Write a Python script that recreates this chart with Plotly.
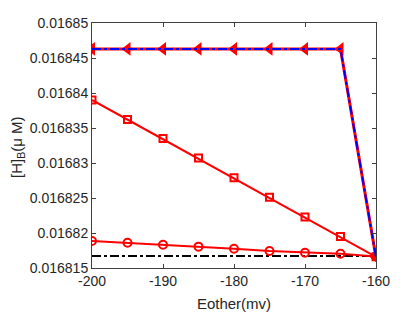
import plotly.graph_objects as go

x = [-200, -195, -190, -185, -180, -175, -170, -165, -160]
top_series = [0.0168463, 0.0168463, 0.0168463, 0.0168463, 0.0168463, 0.0168463, 0.0168463, 0.0168463, 0.0168165]
square_series = [0.0168390, 0.0168362, 0.0168335, 0.0168307, 0.0168279, 0.0168251, 0.0168223, 0.0168195, 0.0168166]
circle_series = [0.01681886, 0.01681861, 0.01681833, 0.01681805, 0.01681776, 0.01681743, 0.01681719, 0.01681704, 0.01681665]
baseline = [0.0168167, 0.0168167]
baseline_x = [-200, -160]

y_tickvals = [0.016815, 0.01682, 0.016825, 0.01683, 0.016835, 0.01684, 0.016845, 0.01685]
y_ticktext = ["0.016815", "0.01682", "0.016825", "0.01683", "0.016835", "0.01684", "0.016845", "0.01685"]
x_tickvals = [-200, -190, -180, -170, -160]
x_ticktext = ["-200", "-190", "-180", "-170", "-160"]

FONT = "Liberation Sans, Arial, sans-serif"

fig = go.Figure()
fig.add_trace(go.Scatter(x=baseline_x, y=baseline, mode="lines",
                         line=dict(color="black", width=2, dash="dashdot")))
fig.add_trace(go.Scatter(x=x, y=circle_series, mode="lines+markers",
                         line=dict(color="red", width=2),
                         marker=dict(symbol="circle-open", size=8, color="red", line=dict(width=2))))
fig.add_trace(go.Scatter(x=x, y=square_series, mode="lines+markers",
                         line=dict(color="red", width=2),
                         marker=dict(symbol="square-open", size=7, color="red", line=dict(width=2))))
fig.add_trace(go.Scatter(x=x, y=top_series, mode="lines+markers",
                         line=dict(color="red", width=3),
                         marker=dict(symbol="triangle-left", size=12, color="red")))
fig.add_trace(go.Scatter(x=x, y=top_series, mode="lines",
                         line=dict(color="blue", width=2, dash="dashdot")))

axis_common = dict(showline=True, linecolor="#404040", linewidth=1, mirror="ticks",
                   ticks="inside", ticklen=4, tickcolor="#404040", showgrid=False,
                   zeroline=False, automargin=False,
                   tickfont=dict(family=FONT, size=14, color="#262626"))
fig.update_xaxes(range=[-200, -160], tickvals=x_tickvals, ticktext=x_ticktext, **axis_common,
                 title=dict(text="Eother(mv)", font=dict(family=FONT, size=15, color="#262626")))
fig.update_yaxes(range=[0.016815, 0.01685], tickvals=y_tickvals, ticktext=y_ticktext, **axis_common)
fig.add_annotation(text="[H]<sub>B</sub>(μ M)", xref="paper", yref="paper",
                   x=(18 - 92) / 284, y=0.49, xanchor="center", yanchor="middle",
                   textangle=-90, showarrow=False,
                   font=dict(family=FONT, size=15, color="#262626"))
fig.update_layout(width=415, height=312, margin=dict(l=92, r=39, t=23, b=44, autoexpand=False),
                  paper_bgcolor="white", plot_bgcolor="white", showlegend=False)
fig.write_html("out.html", config={"displayModeBar": False},
               post_script="document.body.style.margin='0';")
